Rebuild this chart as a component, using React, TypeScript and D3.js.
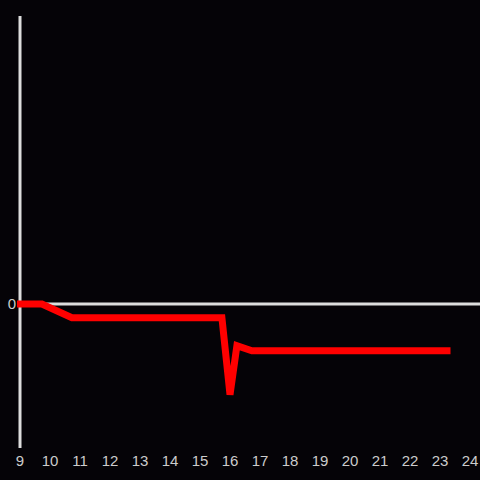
import React from "react";
import * as d3 from "d3";

const hours = [8.9, 9.73, 10.73, 15.73, 16.0, 16.23, 16.73, 23.35];
const values = [0, 0, -0.095, -0.095, -0.63, -0.29, -0.325, -0.325];
const xTicks = [9, 10, 11, 12, 13, 14, 15, 16, 17, 18, 19, 20, 21, 22, 23, 24];
const yTicks = [0];

export default function App() {
  const W = 480, H = 480;
  const x = d3.scaleLinear().domain([9, 24]).range([20, 470]);
  const y = d3.scaleLinear().domain([-1, 2]).range([448, 16]);
  const data = hours.map((h, i) => [h, values[i]] as [number, number]);
  const line = d3.line<[number, number]>().x(d => x(d[0])).y(d => y(d[1]));
  return (
    <svg width={W} height={H} style={{ position: "absolute", left: 0, top: 0, background: "#050307" }}
      fontFamily="'Liberation Sans', Arial, sans-serif">
      <rect x={0} y={0} width={W} height={H} fill="#050307" />
      <line x1={x(9)} x2={480} y1={y(0)} y2={y(0)} stroke="#dddddd" strokeWidth={3} />
      <line x1={x(9)} x2={x(9)} y1={16} y2={448} stroke="#dddddd" strokeWidth={3} />
      <path d={line(data) || ""} fill="none" stroke="#ff0000" strokeWidth={7} strokeLinecap="butt" strokeLinejoin="miter" />
      {xTicks.map(t => (
        <text key={t} x={x(t)} y={466} fill="#cccccc" fontSize={15} textAnchor="middle">{t}</text>
      ))}
      {yTicks.map(t => (
        <text key={t} x={16} y={y(t) + 5} fill="#cccccc" fontSize={15} textAnchor="end">{t}</text>
      ))}
    </svg>
  );
}
